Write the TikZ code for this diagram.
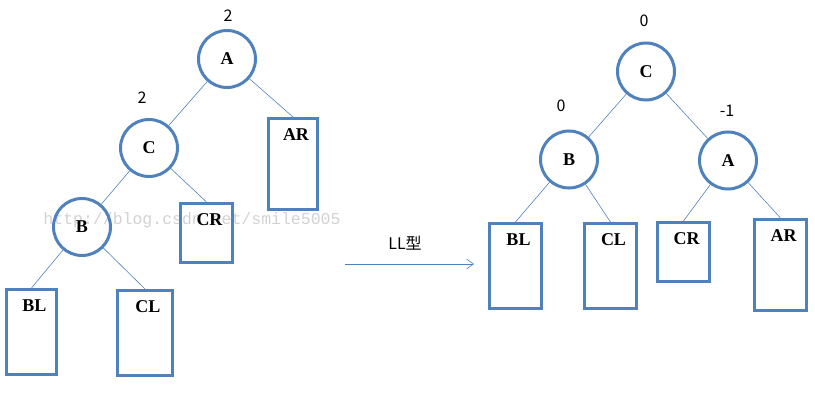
\documentclass[tikz,border=0pt]{standalone}
\usepackage{fontspec}
\setmainfont{Liberation Serif}
\newfontfamily\cjk{Noto Sans CJK SC}
\newfontfamily\markfont{Liberation Mono}
\usetikzlibrary{arrows.meta}
\definecolor{nodeblue}{RGB}{79,129,189}

\begin{document}
\begin{tikzpicture}[x=1pt, y=-1pt,
  tnode/.style={circle, draw=nodeblue, line width=3pt, minimum size=57pt, inner sep=0pt, font=\fontsize{18}{19}\selectfont\bfseries},
  sub/.style={draw=nodeblue, line width=3pt, inner sep=0pt},
  sublabel/.style={anchor=center, yshift=-18pt, xshift=3pt, font=\fontsize{18}{19}\selectfont\bfseries},
  edge/.style={nodeblue, line width=0.6pt},
  bal/.style={font=\cjk\fontsize{16}{18}\selectfont}]
\useasboundingbox (0,0) rectangle (815,412);
\node[gray!35, font=\markfont\fontsize{16.5}{18}\selectfont] (mark) at (192,220) {http://blog.csdn.net/smile5005};
% before: LL case
\node[tnode] (la) at (227,59) {A};
\node[tnode] (lc) at (149,148) {C};
\node[tnode] (lb) at (82,227) {B};
\node[sub, minimum width=49pt, minimum height=91pt, label={[sublabel]north:AR}] (lar) at (293,164) {};
\node[sub, minimum width=52pt, minimum height=59pt, label={[sublabel]north:CR}] (lcr) at (206.5,233) {};
\node[sub, minimum width=50pt, minimum height=85pt, label={[sublabel]north:BL}] (lbl) at (31.5,332) {};
\node[sub, minimum width=55pt, minimum height=85pt, label={[sublabel]north:CL}] (lcl) at (145,333) {};
\node[bal] (nla) at (228,16) {2};
\node[bal] (nlc) at (142,98) {2};
\draw[edge] (la) -- (lc);
\draw[edge] (la) -- (lar.north);
\draw[edge] (lc) -- (lb);
\draw[edge] (lc) -- (lcr.north);
\draw[edge] (lb) -- (lbl.north);
\draw[edge] (lb) -- (lcl.north);
% rotation
\coordinate (rs) at (345,264);
\coordinate (re) at (474,264);
\draw[edge, -{Straight Barb[length=7pt, width=10pt]}] (rs) -- (re);
\node[bal] (ll) at (405,243) {LL型};
% after: right rotation
\node[tnode] (rc) at (646,71.5) {C};
\node[tnode] (rb) at (569,159.5) {B};
\node[tnode] (ra) at (728,160.5) {A};
\node[sub, minimum width=52pt, minimum height=85pt, label={[sublabel]north:BL}] (rbl) at (515.5,266) {};
\node[sub, minimum width=52pt, minimum height=85pt, label={[sublabel]north:CL}] (rcl) at (610.5,266) {};
\node[sub, minimum width=52pt, minimum height=59pt, label={[sublabel]north:CR}] (rcr) at (683.5,252) {};
\node[sub, minimum width=52pt, minimum height=91pt, label={[sublabel]north:AR}] (rar) at (780.5,265) {};
\node[bal] (nrc) at (644,21) {0};
\node[bal] (nrb) at (561,106) {0};
\node[bal] (nra) at (727,111) {-1};
\draw[edge] (rc) -- (rb);
\draw[edge] (rc) -- (ra);
\draw[edge] (rb) -- (rbl.north);
\draw[edge] (rb) -- (rcl.north);
\draw[edge] (ra) -- (rcr.north);
\draw[edge] (ra) -- (rar.north);
\end{tikzpicture}
\end{document}
